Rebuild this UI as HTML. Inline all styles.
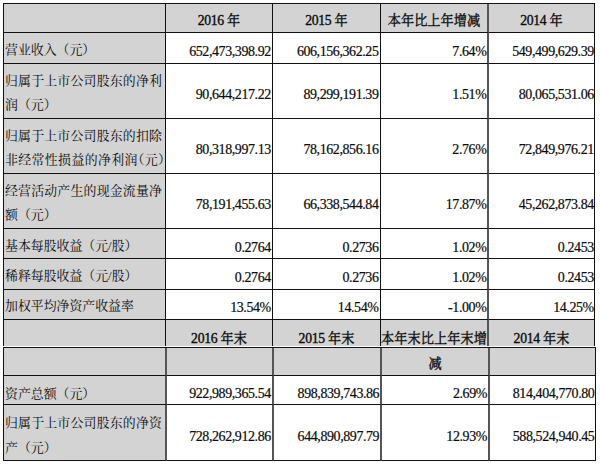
<!DOCTYPE html>
<html lang="zh-CN"><head><meta charset="utf-8"><title>主要会计数据和财务指标</title>
<style>
html,body{margin:0;padding:0;background:#fff}
body{width:600px;height:465px;position:relative;overflow:hidden;font-family:"Liberation Serif","Noto Serif CJK SC",serif;font-size:14px;color:#0a0a0a}
table{position:absolute;border-collapse:separate;border-spacing:0;table-layout:fixed;border-left:1px solid #111;border-top:1px solid #111;background:#fff}
#t1{left:3px;top:3px;width:592px}
#t2{left:3px;top:347px;width:593px}
td,th{box-sizing:border-box;padding:0;margin:0;border-right:1px solid #111;border-bottom:1px solid #111;position:relative;overflow:hidden;vertical-align:top;font-weight:normal;line-height:16px;white-space:nowrap}
tr.last th{border-bottom:0}
th,td.lb{background:#d3d3d3}
th{text-align:center;letter-spacing:-0.3px;font-size:13.7px;-webkit-text-stroke:0.35px #0a0a0a}
.hd{position:relative}
.ck{position:relative;font-size:13.2px;letter-spacing:0.05px;font-family:"Liberation Serif","Noto Serif CJK SC",serif}
.ln{position:absolute;left:1px;display:block;height:16px;line-height:12px;font-size:12.9px;white-space:nowrap;color:#0a0a0a;font-family:"Liberation Serif","Noto Serif CJK SC",serif}
.ln.j{right:4px;letter-spacing:0.2px}
.ln.j2{right:1.5px;letter-spacing:0.39px}
td.nm{text-align:right;letter-spacing:-0.42px;-webkit-text-stroke:.2px #0a0a0a}
#t1 tr>:nth-child(4){border-right:2px solid #555}
#t2 tr>:nth-child(1){border-right:2px solid #555}
#t2 tr>:nth-child(2){border-right:2px solid #555}
#t2 tr>:nth-child(3){border-right:2px solid #555}
#t2 tr>:nth-child(4){border-right:2px solid #555}
</style></head>
<body>
<table id="t1"><colgroup><col style="width:162px"><col style="width:107px"><col style="width:108px"><col style="width:108px"><col style="width:106px"></colgroup>
<tr style="height:29px"><th></th><th><span class="hd" style="top:9.4px">2016 <span class="ck">年</span></span></th><th><span class="hd" style="top:9.4px">2015 <span class="ck">年</span></span></th><th><span class="hd" style="top:9.4px"><span class="ck">本年比上年增减</span></span></th><th><span class="hd" style="top:9.4px">2014 <span class="ck">年</span></span></th></tr>
<tr style="height:31px"><td class="lb"><div class="ln" style="top:11.45px">营业收入（元）</div></td><td class="nm" style="padding:11px 1.2px 0 0">652,473,398.92</td><td class="nm" style="padding:11px 1.5px 0 0">606,156,362.25</td><td class="nm" style="padding:11px 0.6px 0 0">7.64%</td><td class="nm" style="padding:11px 0.2px 0 0">549,499,629.39</td></tr>
<tr style="height:55px"><td class="lb"><div class="ln j" style="top:11.45px">归属于上市公司股东的净利</div><div class="ln" style="top:35.25px">润（元）</div></td><td class="nm" style="padding:23px 1.2px 0 0">90,644,217.22</td><td class="nm" style="padding:23px 1.5px 0 0">89,299,191.39</td><td class="nm" style="padding:23px 0.6px 0 0">1.51%</td><td class="nm" style="padding:23px 0.2px 0 0">80,065,531.06</td></tr>
<tr style="height:55px"><td class="lb"><div class="ln j" style="top:11.45px">归属于上市公司股东的扣除</div><div class="ln j j2" style="top:35.25px">非经常性损益的净利润<span style="margin-left:-6.45px">（</span>元<span style="margin-right:-6.45px">）</span></div></td><td class="nm" style="padding:23px 1.2px 0 0">80,318,997.13</td><td class="nm" style="padding:23px 1.5px 0 0">78,162,856.16</td><td class="nm" style="padding:23px 0.6px 0 0">2.76%</td><td class="nm" style="padding:23px 0.2px 0 0">72,849,976.21</td></tr>
<tr style="height:55px"><td class="lb"><div class="ln j" style="top:11.45px">经营活动产生的现金流量净</div><div class="ln" style="top:35.25px">额（元）</div></td><td class="nm" style="padding:23px 1.2px 0 0">78,191,455.63</td><td class="nm" style="padding:23px 1.5px 0 0">66,338,544.84</td><td class="nm" style="padding:23px 0.6px 0 0">17.87%</td><td class="nm" style="padding:23px 0.2px 0 0">45,262,873.84</td></tr>
<tr style="height:30px"><td class="lb"><div class="ln" style="top:11.45px">基本每股收益（元/股）</div></td><td class="nm" style="padding:11px 1.2px 0 0">0.2764</td><td class="nm" style="padding:11px 1.5px 0 0">0.2736</td><td class="nm" style="padding:11px 0.6px 0 0">1.02%</td><td class="nm" style="padding:11px 0.2px 0 0">0.2453</td></tr>
<tr style="height:31px"><td class="lb"><div class="ln" style="top:11.45px">稀释每股收益（元/股）</div></td><td class="nm" style="padding:11px 1.2px 0 0">0.2764</td><td class="nm" style="padding:11px 1.5px 0 0">0.2736</td><td class="nm" style="padding:11px 0.6px 0 0">1.02%</td><td class="nm" style="padding:11px 0.2px 0 0">0.2453</td></tr>
<tr style="height:30px"><td class="lb"><div class="ln" style="top:10.45px">加权平均净资产收益率</div></td><td class="nm" style="padding:10px 1.2px 0 0">13.54%</td><td class="nm" style="padding:10px 1.5px 0 0">14.54%</td><td class="nm" style="padding:10px 0.6px 0 0">-1.00%</td><td class="nm" style="padding:10px 0.2px 0 0">14.25%</td></tr>
<tr class="last" style="height:26px"><th></th><th><span class="hd" style="top:11.4px">2016 <span class="ck">年末</span></span></th><th><span class="hd" style="top:11.4px">2015 <span class="ck">年末</span></span></th><th><span class="hd" style="top:11.4px"><span class="ck">本年末比上年末增</span></span></th><th><span class="hd" style="top:11.4px">2014 <span class="ck">年末</span></span></th></tr>
</table>
<table id="t2"><colgroup><col style="width:163px"><col style="width:107px"><col style="width:108px"><col style="width:108px"><col style="width:106px"></colgroup>
<tr style="height:28px"><th></th><th></th><th></th><th><span class="hd" style="top:8px"><span class="ck">减</span></span></th><th></th></tr>
<tr style="height:29px"><td class="lb"><div class="ln" style="top:11.95px">资产总额（元）</div></td><td class="nm" style="padding:10px 1.2px 0 0">922,989,365.54</td><td class="nm" style="padding:10px 0.8px 0 0">898,839,743.86</td><td class="nm" style="padding:10px 1px 0 0">2.69%</td><td class="nm" style="padding:10px 0.6px 0 0">814,404,770.80</td></tr>
<tr style="height:56px"><td class="lb"><div class="ln j" style="top:11.95px">归属于上市公司股东的净资</div><div class="ln" style="top:37.45px">产（元）</div></td><td class="nm" style="padding:24px 1.2px 0 0">728,262,912.86</td><td class="nm" style="padding:24px 0.8px 0 0">644,890,897.79</td><td class="nm" style="padding:24px 1px 0 0">12.93%</td><td class="nm" style="padding:24px 0.6px 0 0">588,524,940.45</td></tr>
</table>
</body></html>
